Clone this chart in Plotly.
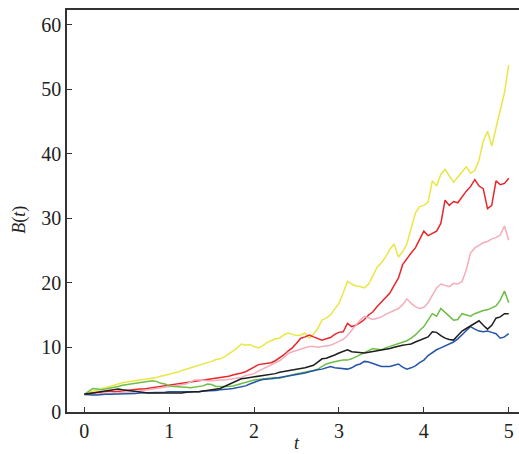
import plotly.graph_objects as go

t = [round(i * 0.05, 2) for i in range(101)]

yellow = [2.7, 3.0, 3.2, 3.3, 3.6, 3.7, 3.9, 4.2, 4.4, 4.5,
          4.6, 4.7, 4.7, 4.8, 4.9, 5.1, 5.2, 5.3, 5.5, 5.6,
          5.8, 6.0, 6.1, 6.4, 6.6, 6.7, 6.9, 7.1, 7.4, 7.6,
          7.8, 8.1, 8.2, 8.5, 8.9, 9.4, 9.9, 10.5, 10.3, 10.4,
          10.1, 9.9, 10.2, 10.7, 11.0, 11.3, 11.4, 11.9, 12.2, 12.0,
          11.8, 11.9, 12.2, 11.4, 12.0, 12.9, 14.2, 14.5, 15.0, 15.9,
          16.8, 18.4, 20.2, 19.8, 19.5, 19.4, 19.2, 19.8, 21.0, 22.4,
          23.1, 24.0, 25.2, 26.0, 24.0, 24.8, 26.0, 28.2, 30.8, 31.8,
          32.0, 32.5, 35.8, 35.0, 36.8, 37.6, 36.5, 35.6, 36.4, 37.2,
          38.0, 37.0, 37.4, 39.0, 42.0, 43.5, 41.2, 44.0, 46.8, 49.5,
          53.8]

red = [2.7, 2.8, 2.9, 3.0, 3.1, 3.1, 3.2, 3.1, 3.1, 3.2,
       3.3, 3.4, 3.4, 3.5, 3.5, 3.6, 3.6, 3.7, 3.8, 3.9,
       4.0, 4.1, 4.2, 4.4, 4.5, 4.5, 4.6, 4.7, 4.8, 4.9,
       5.0, 5.2, 5.3, 5.4, 5.5, 5.7, 5.8, 6.0, 6.2, 6.5,
       6.9, 7.3, 7.4, 7.5, 7.6, 7.9, 8.3, 8.8, 9.4, 9.9,
       10.6, 11.4, 11.6, 11.9, 11.6, 11.3, 11.1, 11.3, 11.5, 12.0,
       12.3, 12.4, 13.7, 13.2, 13.4, 13.8, 14.3, 15.0, 15.5, 16.3,
       17.0, 17.7, 18.4, 19.6, 20.7, 22.8, 23.8, 24.6, 25.4, 26.8,
       28.0, 27.3, 27.6, 28.0, 29.2, 32.8, 32.0, 32.6, 32.4, 33.4,
       34.2, 34.9, 36.0, 35.0, 34.6, 31.5, 32.0, 35.8, 35.2, 35.4,
       36.2]

pink = [2.6, 2.6, 2.7, 2.7, 2.8, 2.8, 2.8, 2.9, 2.9, 3.0,
        3.0, 3.1, 3.1, 3.2, 3.3, 3.3, 3.4, 3.5, 3.6, 3.7,
        3.8, 3.9, 4.0, 4.1, 4.3, 4.6, 4.9, 4.9, 4.8, 4.8,
        4.8, 4.9, 4.9, 4.9, 5.0, 5.1, 5.2, 5.3, 5.6, 5.8,
        5.9, 6.3, 6.6, 6.9, 7.2, 7.5, 7.9, 8.4, 9.0, 9.3,
        9.5, 9.7, 9.8, 10.1, 10.1, 10.0, 10.1, 10.2, 10.3, 10.6,
        10.9, 11.2, 11.8, 12.6, 13.4, 14.2, 14.8, 14.6, 14.3, 14.5,
        14.7, 15.1, 15.4, 15.8, 16.0, 16.6, 17.5, 16.8, 16.3, 16.0,
        16.2, 16.9, 18.0, 19.2, 19.8, 19.6, 19.4, 19.9, 19.8, 20.2,
        22.0, 24.6, 25.4, 25.8, 26.2, 26.4, 26.8, 27.0, 27.4, 28.8,
        26.6]

green = [2.7, 3.2, 3.6, 3.5, 3.4, 3.5, 3.6, 3.8, 3.9, 4.1,
         4.2, 4.3, 4.4, 4.5, 4.6, 4.7, 4.8, 4.7, 4.4, 4.3,
         4.0, 3.9, 3.9, 3.8, 3.8, 3.7, 3.8, 3.8, 4.0, 4.3,
         4.2, 3.9, 3.9, 3.8, 3.9, 4.0, 4.2, 4.4, 4.6, 4.8,
         4.9, 5.0, 5.1, 5.1, 5.2, 5.3, 5.2, 5.4, 5.6, 5.8,
         5.9, 6.0, 6.1, 6.2, 6.4, 6.6, 7.0, 7.4, 7.6, 7.8,
         7.9, 8.0, 8.0, 8.2, 8.5, 8.8, 9.2, 9.5, 9.8, 9.7,
         9.6, 9.9, 10.1, 10.3, 10.5, 10.7, 11.0, 11.4, 11.9, 12.6,
         13.2, 14.2, 15.2, 14.8, 16.0, 15.4, 14.8, 14.2, 14.3, 15.2,
         15.0, 14.8, 15.2, 15.5, 15.7, 15.8, 16.1, 16.4, 17.3, 18.7,
         16.9]

black = [2.7, 2.8, 2.9, 3.1, 3.2, 3.3, 3.4, 3.5, 3.5, 3.4,
         3.3, 3.2, 3.1, 3.1, 3.0, 2.9, 2.9, 2.9, 2.8, 2.8,
         2.8, 2.8, 2.8, 2.9, 3.0, 3.1, 3.1, 3.1, 3.2, 3.2,
         3.3, 3.4, 3.6, 3.9, 4.2, 4.6, 4.9, 5.1, 5.2, 5.3,
         5.4, 5.5, 5.5, 5.6, 5.8, 5.9, 6.1, 6.2, 6.3, 6.4,
         6.5, 6.6, 6.8, 7.0, 7.2, 7.7, 8.2, 8.3, 8.5, 8.8,
         9.1, 9.3, 9.6, 9.3, 9.2, 9.1, 9.1, 9.2, 9.3, 9.4,
         9.6, 9.6, 9.8, 10.0, 10.2, 10.3, 10.4, 10.5, 10.8, 11.1,
         11.3, 11.6, 12.4, 12.3, 11.8, 11.4, 11.2, 11.1, 11.8, 12.5,
         12.9, 13.3, 13.6, 14.1, 13.4, 12.8, 13.4, 14.5, 14.7, 15.2,
         15.2]

blue = [2.7, 2.6, 2.6, 2.6, 2.7, 2.7, 2.7, 2.7, 2.8, 2.8,
        2.8, 2.8, 2.8, 2.9, 2.9, 2.9, 3.0, 3.0, 3.0, 3.0,
        3.1, 3.1, 3.1, 3.0, 3.1, 3.1, 3.1, 3.1, 3.2, 3.2,
        3.3, 3.3, 3.4, 3.4, 3.5, 3.6, 3.7, 3.8, 4.0, 4.3,
        4.6, 4.8, 5.0, 5.0, 5.1, 5.2, 5.3, 5.5, 5.6, 5.7,
        5.8, 5.9, 6.0, 6.2, 6.4, 6.5, 6.6, 6.8, 7.0, 6.8,
        6.7, 6.7, 6.6, 6.8, 7.2, 7.4, 7.8, 7.7, 7.5, 7.2,
        7.0, 7.0, 7.0, 7.2, 7.4, 6.9, 6.6, 6.8, 7.1, 7.6,
        8.0, 8.7, 9.2, 9.6, 9.9, 10.2, 10.5, 10.8, 11.3, 11.9,
        12.6, 13.2, 12.8, 12.5, 12.4, 12.5, 12.3, 12.1, 11.4, 11.6,
        12.1]

x_ticks = [0, 1, 2, 3, 4, 5]
y_ticks = [0, 10, 20, 30, 40, 50, 60]

series = [
    ("yellow", yellow, "#E9E646"),
    ("red", red, "#E8262B"),
    ("pink", pink, "#F4ADBA"),
    ("green", green, "#6DBE45"),
    ("blue", blue, "#2455A8"),
    ("black", black, "#1E1E1E"),
]

fig = go.Figure()
for name, vals, col in series:
    fig.add_trace(go.Scatter(x=t, y=vals, mode="lines", name=name,
                             line=dict(color=col, width=1.5), showlegend=False))

font = "Liberation Serif, Times New Roman, serif"
axis_col = "#333333"

fig.update_layout(
    width=519, height=454,
    margin=dict(l=67, r=0, t=10, b=42, autoexpand=False),
    paper_bgcolor="white", plot_bgcolor="white",
    font=dict(family=font, size=20, color="#222"),
    xaxis=dict(range=[-0.204, 5.121], tickvals=x_ticks, ticks="inside", ticklen=5,
               tickcolor=axis_col, showline=True, linecolor=axis_col, linewidth=1.7,
               mirror=True, showgrid=False, zeroline=False, automargin=False,
               tickfont=dict(family=font, size=20, color="#222")),
    yaxis=dict(range=[-0.05, 62.3], tickvals=y_ticks, ticks="inside", ticklen=5,
               tickcolor=axis_col, showline=True, linecolor=axis_col, linewidth=1.7,
               showgrid=False, zeroline=False, automargin=False,
               tickfont=dict(family=font, size=20, color="#222")),
    annotations=[
        dict(text="<i>B</i>(<i>t</i>)", xref="paper", yref="paper", x=-0.104, y=0.478,
             showarrow=False, textangle=-90, xanchor="center", yanchor="middle",
             font=dict(family=font, size=18, color="#222")),
        dict(text="<i>t</i>", xref="paper", yref="paper", x=0.509, y=-0.078,
             showarrow=False, xanchor="center", yanchor="middle",
             font=dict(family=font, size=18, color="#222")),
    ],
)

fig.write_html("out.html", config={"displayModeBar": False},
               post_script="document.body.style.margin='0';document.body.style.overflow='hidden';")
